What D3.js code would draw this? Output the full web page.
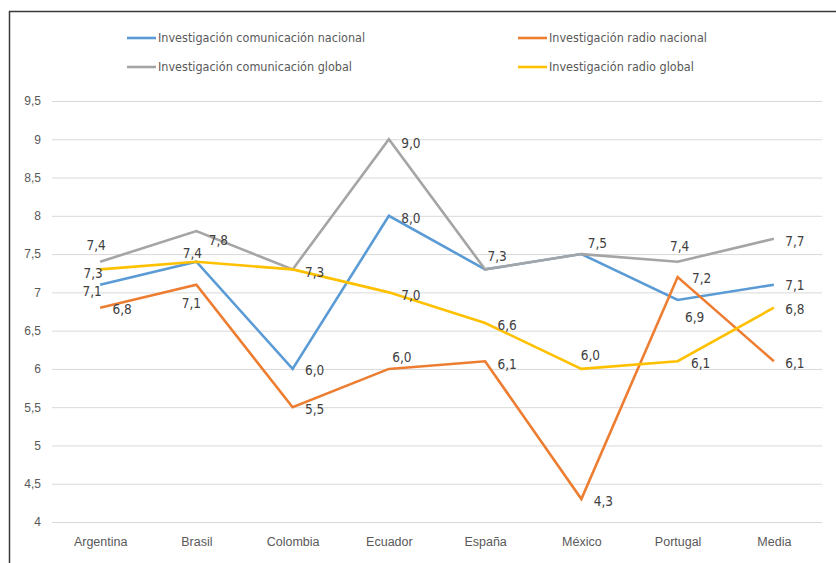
<!DOCTYPE html>
<html>
<head>
<meta charset="utf-8">
<script src="https://cdn.jsdelivr.net/npm/d3@7/dist/d3.min.js"></script>
<style>
  body { margin: 0; background: #fff; }
  svg { display: block; font-family: "DejaVu Sans Condensed", "DejaVu Sans", sans-serif; }
</style>
</head>
<body>
<svg id="chart" width="836" height="563"></svg>
<script>
var countries = ["Argentina", "Brasil", "Colombia", "Ecuador", "España", "México", "Portugal", "Media"];

var comNacional = [7.1, 7.4, 6.0, 8.0, 7.3, 7.5, 6.9, 7.1];
var radioNacional = [6.8, 7.1, 5.5, 6.0, 6.1, 4.3, 7.2, 6.1];
var comGlobal = [7.4, 7.8, 7.3, 9.0, 7.3, 7.5, 7.4, 7.7];
var radioGlobal = [7.3, 7.4, 7.3, 7.0, 6.6, 6.0, 6.1, 6.8];

var seriesNames = [
  "Investigación comunicación nacional",
  "Investigación radio nacional",
  "Investigación comunicación global",
  "Investigación radio global"
];

var yTicks = [4, 4.5, 5, 5.5, 6, 6.5, 7, 7.5, 8, 8.5, 9, 9.5];

// label placement (centre offset from the point), one per point
var labelOffsets = [
  [[-8, 7], [-4, -8], [22, 1], [22, 2], [12, -13], [16, -11], [17, 17], [21, 1]],
  [[22, 2], [-5, 19], [22, 2], [13, -12], [22, 3], [22, 2], [24, 1], [21, 2]],
  [[-4, -16], [22, 9], [22, 3], [22, 4], [12, -13], [16, -11], [2, -15], [21, 2]],
  [[-7, 4], [-4, -8], [22, 3], [22, 3], [22, 2], [9, -14], [23, 2], [21, 2]]
];

var series = [
  { name: seriesNames[0], values: comNacional, color: "#5b9bd5" },
  { name: seriesNames[1], values: radioNacional, color: "#ed7d31" },
  { name: seriesNames[2], values: comGlobal, color: "#a5a5a5" },
  { name: seriesNames[3], values: radioGlobal, color: "#ffc000" }
];

var svg = d3.select("#chart");

var x = d3.scalePoint()
  .domain(countries)
  .range([52, 822])
  .padding(0.5);

var y = d3.scaleLinear()
  .domain([4, 9.5])
  .range([522, 101]);

var fmt = function(v) { return d3.format(".1f")(v).replace(".", ","); };

// frame
svg.append("path")
  .attr("d", "M9.5,563V11.5H836")
  .attr("fill", "none")
  .attr("stroke", "#3a3a3a")
  .attr("stroke-width", 1.5);

// gridlines + y labels
var yAxis = d3.axisLeft(y)
  .tickValues(yTicks)
  .tickSize(-(822 - 52))
  .tickPadding(11)
  .tickFormat(function(d) { return String(d).replace(".", ","); });

var gy = svg.append("g")
  .attr("transform", "translate(52,0)")
  .call(yAxis);
gy.select(".domain").remove();
gy.selectAll(".tick line").attr("stroke", "#d9d9d9").attr("stroke-width", 1);
gy.selectAll(".tick text")
  .attr("fill", "#595959")
  .attr("font-size", 12);

// category labels
var xAxis = d3.axisBottom(x).tickSize(0).tickPadding(15);
var gx = svg.append("g")
  .attr("transform", "translate(0,522)")
  .call(xAxis);
gx.select(".domain").remove();
gx.selectAll(".tick text")
  .attr("fill", "#595959")
  .attr("font-size", 12.5);

var line = d3.line()
  .x(function(d, i) { return x(countries[i]); })
  .y(function(d) { return y(d); });

svg.selectAll("path.series")
  .data(series)
  .enter().append("path")
  .attr("class", "series")
  .attr("d", function(d) { return line(d.values); })
  .attr("fill", "none")
  .attr("stroke", function(d) { return d.color; })
  .attr("stroke-width", 2.6)
  .attr("stroke-linejoin", "miter");

// data labels (one label where series share a point)
var seen = {};
series.forEach(function(s, si) {
  var pts = s.values.map(function(v, i) { return { v: v, i: i }; })
    .filter(function(p) {
      var key = p.i + ":" + p.v;
      if (seen[key]) return false;
      seen[key] = true;
      return true;
    });
  svg.append("g").selectAll("text")
    .data(pts)
    .enter().append("text")
    .attr("x", function(p) { return x(countries[p.i]) + labelOffsets[si][p.i][0]; })
    .attr("y", function(p) { return y(p.v) + labelOffsets[si][p.i][1]; })
    .attr("dy", "0.35em")
    .attr("text-anchor", "middle")
    .attr("fill", "#404040")
    .attr("font-size", 13.5)
    .text(function(p) { return fmt(p.v); });
});

// legend
var legendPos = [[127, 38], [518, 38], [127, 67], [518, 67]];
var legend = svg.append("g").selectAll("g")
  .data(series)
  .enter().append("g")
  .attr("transform", function(d, i) { return "translate(" + legendPos[i][0] + "," + legendPos[i][1] + ")"; });

legend.append("line")
  .attr("x1", 0).attr("x2", 29)
  .attr("stroke", function(d) { return d.color; })
  .attr("stroke-width", 2.6);

legend.append("text")
  .attr("x", 31)
  .attr("dy", "0.35em")
  .attr("fill", "#595959")
  .attr("font-size", 12.5)
  .text(function(d) { return d.name; });
</script>
</body>
</html>
